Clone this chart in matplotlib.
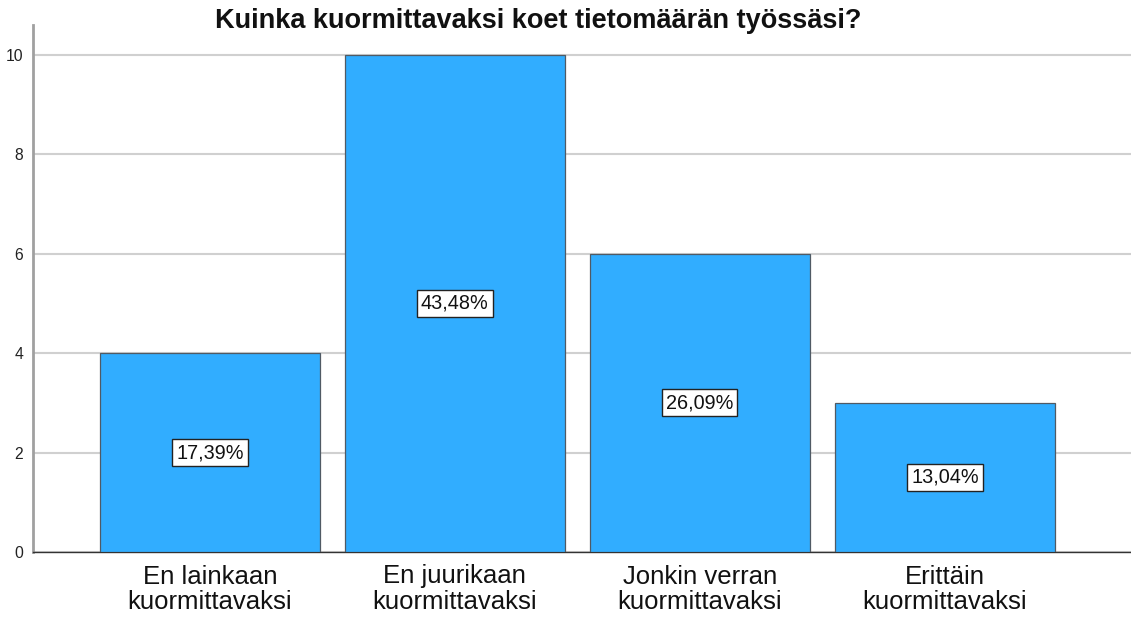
import matplotlib
matplotlib.use("Agg")
import matplotlib.pyplot as plt

categories = ["En lainkaan\nkuormittavaksi", "En juurikaan\nkuormittavaksi",
              "Jonkin verran\nkuormittavaksi", "Erittäin\nkuormittavaksi"]
counts = [4, 10, 6, 3]
pct_labels = ["17,39%", "43,48%", "26,09%", "13,04%"]
yticks = [0, 2, 4, 6, 8, 10]

plt.rcParams['font.family'] = ['Liberation Sans', 'DejaVu Sans']

fig = plt.figure(figsize=(11.31, 6.17), dpi=100)
ax = fig.add_axes([33/1131, 65/617, 1 - 33/1131, 527/617])

x = list(range(len(categories)))
bars = ax.bar(x, counts, width=0.898, color='#31adff', edgecolor='#505a64', linewidth=0.9, zorder=3)
for xi, c, lab in zip(x, counts, pct_labels):
    ax.text(xi, c / 2, lab, ha='center', va='center', fontsize=14.3, color='#111111', zorder=5,
            bbox=dict(boxstyle='square,pad=0.2', facecolor='white', edgecolor='#222222', linewidth=1.0))

ax.set_xlim(-0.722, 3.76)
ax.set_ylim(0, 10.6)
ax.set_yticks(yticks)
ax.set_yticklabels([str(v) for v in yticks], fontsize=11.3, color='#222222')
ax.tick_params(axis='y', length=0, pad=7)
ax.set_xticks(x)
ax.set_xticklabels(categories, fontsize=18.5, color='#111111', linespacing=1.08)
ax.tick_params(axis='x', length=0, pad=9)
ax.yaxis.grid(True, color='#d0d0d0', linewidth=1.5, zorder=0)
ax.set_axisbelow(True)
for s in ['top', 'right']:
    ax.spines[s].set_visible(False)
ax.spines['left'].set_color('#a0a0a0')
ax.spines['left'].set_linewidth(2)
ax.spines['bottom'].set_color('#333333')
ax.spines['bottom'].set_linewidth(1)

fig.text(538/1131, 1 - 21/617, "Kuinka kuormittavaksi koet tietomäärän työssäsi?",
         ha='center', va='center', fontsize=19.5, fontweight='bold', color='#111111')

fig.savefig("out.png", dpi=100, facecolor='white')
